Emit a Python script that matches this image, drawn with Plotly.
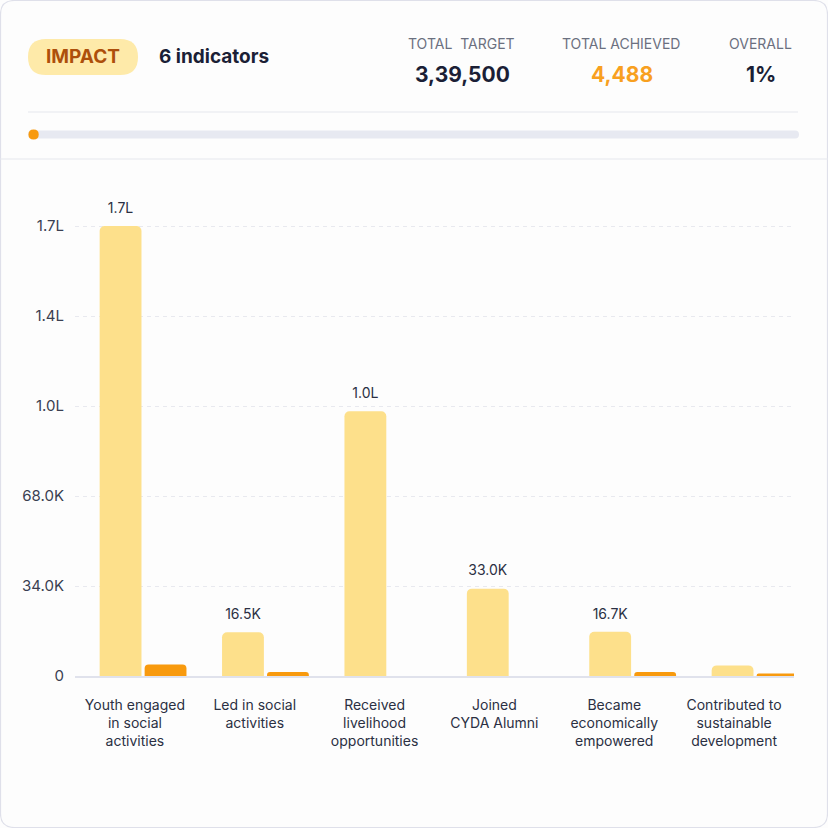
import plotly.graph_objects as go

# ---------------- data ----------------
categories = [
    "Youth engaged<br>in social<br>activities",
    "Led in social<br>activities",
    "Received<br>livelihood<br>opportunities",
    "Joined<br>CYDA Alumni",
    "Became<br>economically<br>empowered",
    "Contributed to<br>sustainable<br>development",
]
target = [170000, 16500, 100000, 33000, 16700, 4000]
achieved = [4300, 1500, 0, 0, 1500, 900]
target_labels = ["1.7L", "16.5K", "1.0L", "33.0K", "16.7K", ""]
ytick_vals = [0, 34000, 68000, 102000, 136000, 170000]
ytick_text = ["0", "34.0K", "68.0K", "1.0L", "1.4L", "1.7L"]

header_badge = "IMPACT"
header_count = "6 indicators"
stat_titles = ["TOTAL  TARGET", "TOTAL ACHIEVED", "OVERALL"]
stat_values = ["3,39,500", "4,488", "1%"]
overall_pct = 4488 / 339500

# ---------------- styling ----------------
FONT = "Inter"
DARK = "#1b1f36"
GRAY = "#6b7080"
YELLOW = "#fde08b"
ORANGE = "#f89a0e"
LINE = "#e6e7ee"

W_IMG, H_IMG = 828, 828
L, R, T, B = 75, 794, 190, 676
PW, PH = R - L, B - T
BARGAP, BARGROUPGAP = 0.265, 0.07


def fx(x):
    return (x - L) / PW


def fy(y):
    return (B - y) / PH


def rrect(x0, y0, x1, y1, r):
    rx, ry = r / PW, r / PH
    X0, X1 = fx(x0), fx(x1)
    Y0, Y1 = fy(y0), fy(y1)  # Y0 top (larger), Y1 bottom
    return (
        f"M{X0+rx},{Y0} L{X1-rx},{Y0} Q{X1},{Y0} {X1},{Y0-ry} "
        f"L{X1},{Y1+ry} Q{X1},{Y1} {X1-rx},{Y1} "
        f"L{X0+rx},{Y1} Q{X0},{Y1} {X0},{Y1+ry} "
        f"L{X0},{Y0-ry} Q{X0},{Y0} {X0+rx},{Y0} Z"
    )


fig = go.Figure()

idx = list(range(len(categories)))
fig.add_trace(go.Bar(
    x=idx, y=target, name="Target",
    marker=dict(color=YELLOW, cornerradius=5, line=dict(width=0)),
    hoverinfo="skip",
))
fig.add_trace(go.Bar(
    x=idx, y=achieved, name="Achieved",
    marker=dict(color=ORANGE, cornerradius=4, line=dict(width=0)),
    hoverinfo="skip",
))
# value labels above the target bars (target bar sits in the left slot of each group)
slot = (1 - BARGAP) / 2
fig.add_trace(go.Scatter(
    x=[i - slot / 2 for i in idx], y=target, mode="markers+text",
    text=target_labels, textposition="top center",
    textfont=dict(family=FONT, size=14, color="#2b3043"),
    marker=dict(size=14, opacity=0), cliponaxis=False,
    hoverinfo="skip", showlegend=False,
))
# invisible trace hosting the category labels axis
fig.add_trace(go.Scatter(
    x=categories, y=[0] * len(categories), xaxis="x2", mode="markers",
    marker=dict(opacity=0), hoverinfo="skip", showlegend=False,
))

shapes = []
# card border
shapes.append(dict(type="path", xref="paper", yref="paper",
                   path=rrect(0.5, 0.5, 827.5, 827.5, 14),
                   line=dict(color="#dfe0ea", width=1.2), fillcolor="rgba(0,0,0,0)",
                   layer="below"))
# badge pill
shapes.append(dict(type="path", xref="paper", yref="paper",
                   path=rrect(28, 39, 138, 75, 18),
                   line=dict(width=0), fillcolor="#feeaa9", layer="below"))
# divider lines
shapes.append(dict(type="line", xref="paper", yref="paper",
                   x0=fx(28), x1=fx(798), y0=fy(112), y1=fy(112),
                   line=dict(color=LINE, width=1.2)))
shapes.append(dict(type="line", xref="paper", yref="paper",
                   x0=fx(0), x1=fx(828), y0=fy(159), y1=fy(159),
                   line=dict(color=LINE, width=1.2)))
# progress track & fill
shapes.append(dict(type="path", xref="paper", yref="paper",
                   path=rrect(28, 130.5, 799, 138.5, 4),
                   line=dict(width=0), fillcolor="#e7e9f1"))
fill_w = max(10, (799 - 28) * overall_pct)
shapes.append(dict(type="path", xref="paper", yref="paper",
                   path=rrect(28.5, 129.5, 28.5 + fill_w, 139.5, 5),
                   line=dict(width=0), fillcolor=ORANGE))

annotations = [
    dict(text=f"<b>{header_badge}</b>", x=fx(83), y=fy(57), xref="paper", yref="paper",
         showarrow=False, xanchor="center", yanchor="middle",
         font=dict(family=FONT, size=19, color="#ad4f0b")),
    dict(text=f"<b>{header_count}</b>", x=fx(157), y=fy(57), xref="paper", yref="paper",
         showarrow=False, xanchor="left", yanchor="middle",
         font=dict(family=FONT, size=19, color=DARK)),
]
stat_x = [461, 621, 760]
stat_colors = [DARK, "#f8a01f", DARK]
for sx, st, sv, sc in zip(stat_x, stat_titles, stat_values, stat_colors):
    annotations.append(dict(text=st, x=fx(sx), y=fy(44), xref="paper", yref="paper",
                            showarrow=False, xanchor="center", yanchor="middle",
                            font=dict(family=FONT, size=14, color=GRAY)))
    annotations.append(dict(text=f"<b>{sv}</b>", x=fx(sx + 1), y=fy(75), xref="paper", yref="paper",
                            showarrow=False, xanchor="center", yanchor="middle",
                            font=dict(family=FONT, size=21, color=sc)))

fig.update_layout(
    width=W_IMG, height=H_IMG,
    margin=dict(l=L, r=W_IMG - R, t=T, b=H_IMG - B, pad=0),
    paper_bgcolor="#fdfdfd", plot_bgcolor="#fdfdfd",
    barmode="group", bargap=BARGAP, bargroupgap=BARGROUPGAP,
    showlegend=False,
    font=dict(family=FONT, color="#2b3043"),
    xaxis=dict(range=[-0.556, 5.318], showticklabels=False, ticks="",
               showgrid=False, zeroline=False, showline=True,
               linecolor="#e0e2ec", linewidth=1.5, fixedrange=True),
    xaxis2=dict(overlaying="x", anchor="y", side="bottom",
                range=[-0.5, 5.5], type="category",
                showgrid=False, zeroline=False, showline=False,
                ticks="outside", ticklen=16, tickcolor="rgba(0,0,0,0)",
                tickfont=dict(family=FONT, size=14, color="#2b3043")),
    yaxis=dict(range=[0, 183600], tickvals=ytick_vals, ticktext=ytick_text,
               showgrid=True, gridcolor="#e8e9ef", griddash="4px,4px", gridwidth=1,
               zeroline=False, showline=False, ticks="",
               ticklabelstandoff=10,
               tickfont=dict(family=FONT, size=15, color="#3a3f51")),
    shapes=shapes,
    annotations=annotations,
)

fig.write_html("out.html")
